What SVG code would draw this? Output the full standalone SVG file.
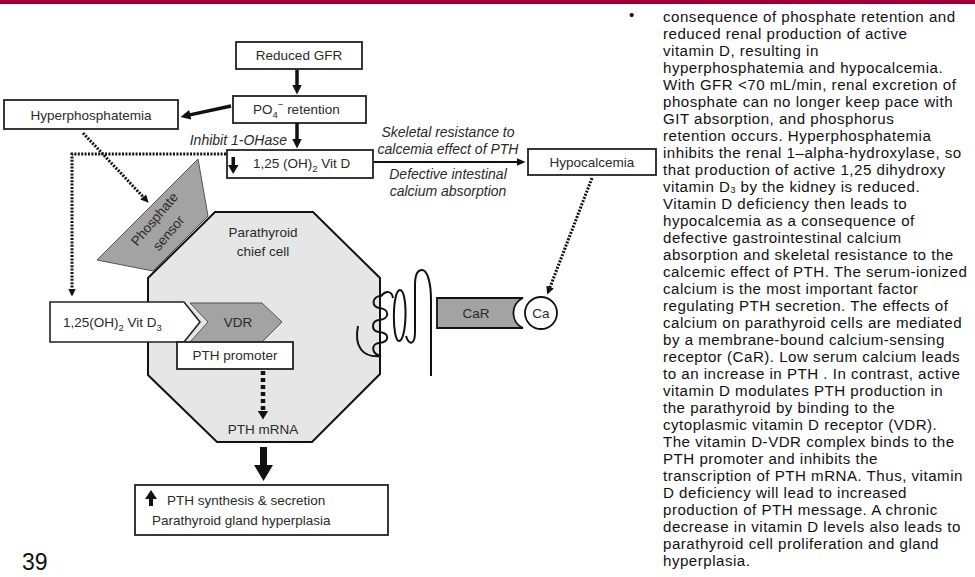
<svg xmlns="http://www.w3.org/2000/svg" width="975" height="577" viewBox="0 0 975 577">
<defs>
<style>
.box{fill:#fff;stroke:#222;stroke-width:1.8}
.lbl{font-family:"Liberation Sans",Arial,sans-serif;font-size:13.5px;fill:#2a2a2a}
.it{font-family:"Liberation Sans",Arial,sans-serif;font-size:14px;font-style:italic;fill:#2a2a2a}
.body{font-family:"Liberation Sans",Arial,sans-serif;font-size:15.1px;letter-spacing:0.5px;fill:#111}
.thick{stroke:#111;stroke-width:3.5;fill:none}
.thin{stroke:#111;stroke-width:2;fill:none}
.dot{stroke:#111;stroke-width:3;stroke-dasharray:2 1.4;fill:none}
.dotB{stroke:#111;stroke-width:4.5;stroke-dasharray:4 3;fill:none}
.gray{fill:#a3a3a3;stroke:#555;stroke-width:1}
</style>
<marker id="ahM" viewBox="0 0 10 10" markerWidth="10" markerHeight="10" markerUnits="userSpaceOnUse" refX="0.5" refY="5" orient="auto"><path d="M0,0 L10,5 L0,10 z" fill="#111"/></marker>
<marker id="ahH" viewBox="0 0 9 8" markerWidth="9" markerHeight="8" markerUnits="userSpaceOnUse" refX="0.5" refY="4" orient="auto"><path d="M0,0 L9,4 L0,8 z" fill="#111"/></marker>
<marker id="ahS" viewBox="0 0 8 8" markerWidth="8" markerHeight="8" markerUnits="userSpaceOnUse" refX="0.5" refY="4" orient="auto"><path d="M0,0 L8,4 L0,8 z" fill="#111"/></marker>
<marker id="ahB" viewBox="0 0 9 11" markerWidth="9" markerHeight="11" markerUnits="userSpaceOnUse" refX="0.5" refY="5.5" orient="auto"><path d="M0,0 L9,5.5 L0,11 z" fill="#111"/></marker>
</defs>
<rect x="0" y="0" width="975" height="577" fill="#fff"/>
<rect x="0" y="0" width="975" height="4" fill="#990033"/>

<g id="phosphate-sensor">
<polygon class="gray" points="198,159 208,216 153,271 97,260"/>
<text class="lbl" font-size="12.5" transform="translate(158,222) rotate(-50)" text-anchor="middle">Phosphate</text>
<text class="lbl" font-size="12.5" transform="translate(172,236) rotate(-50)" text-anchor="middle">sensor</text>
</g>

<g id="chief-cell">
<polygon points="215,212 313,212 380,278 380,374 312,442 217,442 148,375 148,278" fill="#e6e6e6" stroke="#111" stroke-width="2"/>
<text class="lbl" x="263" y="237" text-anchor="middle">Parathyroid</text>
<text class="lbl" x="263" y="256" text-anchor="middle">chief cell</text>
<text class="lbl" x="263" y="434" text-anchor="middle">PTH mRNA</text>
</g>

<g id="reduced-gfr">
<rect class="box" x="236" y="42" width="126" height="27"/>
<text class="lbl" x="299" y="60" text-anchor="middle">Reduced GFR</text>
</g>

<g id="po4-retention">
<rect class="box" x="233" y="96" width="133" height="27"/>
<text class="lbl" x="253" y="114">PO<tspan font-size="9.5" dy="4">4</tspan><tspan font-size="9.5" dy="-10">−</tspan><tspan dy="6"> retention</tspan></text>
</g>

<g id="hyperphosphatemia">
<rect class="box" x="4" y="100" width="174" height="29"/>
<text class="lbl" x="91" y="120" text-anchor="middle">Hyperphosphatemia</text>
</g>

<g id="vitd">
<rect class="box" x="227" y="150" width="146" height="28"/>
<rect x="231.5" y="157" width="3.5" height="9" fill="#111"/>
<polygon points="228,165 238.5,165 233.2,174" fill="#111"/>
<text class="lbl" x="253" y="168">1,25 (OH)<tspan font-size="9.5" dy="4">2</tspan><tspan dy="-4"> Vit D</tspan></text>
</g>

<g id="hypocalcemia">
<rect class="box" x="528" y="149" width="128" height="26"/>
<text class="lbl" x="592" y="167" text-anchor="middle">Hypocalcemia</text>
</g>

<g id="vitd3">
<polygon points="50,302 184,302 200,322 184,342 50,342" fill="#fff" stroke="#222" stroke-width="1.6"/>
<text class="lbl" x="63" y="327">1,25(OH)<tspan font-size="9.5" dy="4">2</tspan><tspan dy="-4"> Vit D</tspan><tspan font-size="9.5" dy="4">3</tspan></text>
</g>

<g id="vdr">
<polygon class="gray" points="190,303 262,303 282,322 262,342 190,342 208,322" stroke="#333" stroke-width="1.4"/>
<text class="lbl" x="238" y="327" text-anchor="middle">VDR</text>
</g>

<g id="pth-promoter">
<rect class="box" x="177" y="342" width="116" height="27"/>
<text class="lbl" x="235" y="360" text-anchor="middle">PTH promoter</text>
</g>

<g id="car">
<path d="M358,326 C354,346 362,358 381,356 C371,354 371,344 379,343 C390,342 390,333 379,332 C371,331 371,321 379,320 C390,319 390,309 379,308 C371,307 372,296 381,296 C386,290 392,291 393,298" fill="none" stroke="#111" stroke-width="2"/>
<path d="M400,290 C392,290 392,341 399,341 C407,341 408,290 400,290 Z" fill="none" stroke="#111" stroke-width="2"/>
<path d="M406,336 C409,346 415,345 415,332 L415,285 C415,273 418,270 422,270 C428,270 431,285 431,300 L431,376" fill="none" stroke="#111" stroke-width="2"/>
<path d="M437,298 H523 A16.5,16.5 0 0 0 523,328 H437 Z" fill="#a3a3a3" stroke="#111" stroke-width="1.8"/>
<text class="lbl" x="476" y="318" text-anchor="middle">CaR</text>
</g>

<g id="ca">
<circle cx="541" cy="313" r="16" fill="#fff" stroke="#111" stroke-width="1.8"/>
<text class="lbl" x="541" y="318" text-anchor="middle" font-size="13">Ca</text>
</g>

<g id="pth-output">
<rect class="box" x="135" y="485" width="253" height="50"/>
<rect x="149" y="498" width="4" height="8" fill="#111"/>
<polygon points="145,499 151,490 157,499" fill="#111"/>
<text class="lbl" x="167" y="505">PTH synthesis &amp; secretion</text>
<text class="lbl" x="152" y="525">Parathyroid gland hyperplasia</text>
</g>

<g id="connectors">
<line class="thick" x1="297" y1="70" x2="297" y2="85" marker-end="url(#ahM)"/>
<line class="thick" x1="297" y1="123" x2="297" y2="139" marker-end="url(#ahM)"/>
<line class="thick" x1="231" y1="106" x2="189.8" y2="114.9" marker-end="url(#ahM)"/>
<line class="thin" x1="374" y1="162" x2="517" y2="162" marker-end="url(#ahH)"/>
<path class="dot" d="M226,154 H72 V289" marker-end="url(#ahS)"/>
<line class="dot" x1="83" y1="133" x2="143.5" y2="197.2" marker-end="url(#ahS)"/>
<line class="dot" x1="592" y1="178" x2="549.9" y2="287.5" marker-end="url(#ahS)"/>
<line class="dotB" x1="263" y1="371" x2="263" y2="411" marker-end="url(#ahB)"/>
<polygon points="260,447 267,447 267,465 273,465 263.5,481 254,465 260,465" fill="#111"/>
<text class="it" x="287" y="145" text-anchor="end">Inhibit 1-OHase</text>
<text class="it" x="448" y="137" text-anchor="middle">Skeletal resistance to</text>
<text class="it" x="448" y="154" text-anchor="middle">calcemia effect of PTH</text>
<text class="it" x="448" y="179" text-anchor="middle">Defective intestinal</text>
<text class="it" x="448" y="196" text-anchor="middle">calcium absorption</text>
</g>

<g id="page-number">
<text x="22" y="570" font-family="'Liberation Sans',Arial,sans-serif" font-size="23" fill="#111">39</text>
</g>

<g id="notes">
<text class="body" x="629" y="20">•</text>
<text class="body" x="663" y="22">consequence of phosphate retention and</text>
<text class="body" x="663" y="39">reduced renal production of active</text>
<text class="body" x="663" y="56">vitamin D, resulting in</text>
<text class="body" x="663" y="73">hyperphosphatemia and hypocalcemia.</text>
<text class="body" x="663" y="90">With GFR &lt;70 mL/min, renal excretion of</text>
<text class="body" x="663" y="107">phosphate can no longer keep pace with</text>
<text class="body" x="663" y="124">GIT absorption, and phosphorus</text>
<text class="body" x="663" y="141">retention occurs. Hyperphosphatemia</text>
<text class="body" x="663" y="158">inhibits the renal 1–alpha-hydroxylase, so</text>
<text class="body" x="663" y="175">that production of active 1,25 dihydroxy</text>
<text class="body" x="663" y="192">vitamin D<tspan font-size="9" dy="1">3</tspan><tspan dy="-1"> by the kidney is reduced.</tspan></text>
<text class="body" x="663" y="209">Vitamin D deficiency then leads to</text>
<text class="body" x="663" y="226">hypocalcemia as a consequence of</text>
<text class="body" x="663" y="243">defective gastrointestinal calcium</text>
<text class="body" x="663" y="260">absorption and skeletal resistance to the</text>
<text class="body" x="663" y="277">calcemic effect of PTH. The serum-ionized</text>
<text class="body" x="663" y="294">calcium is the most important factor</text>
<text class="body" x="663" y="311">regulating PTH secretion. The effects of</text>
<text class="body" x="663" y="328">calcium on parathyroid cells are mediated</text>
<text class="body" x="663" y="345">by a membrane-bound calcium-sensing</text>
<text class="body" x="663" y="362">receptor (CaR). Low serum calcium leads</text>
<text class="body" x="663" y="379">to an increase in PTH . In contrast, active</text>
<text class="body" x="663" y="396">vitamin D modulates PTH production in</text>
<text class="body" x="663" y="413">the parathyroid by binding to the</text>
<text class="body" x="663" y="430">cytoplasmic vitamin D receptor (VDR).</text>
<text class="body" x="663" y="447">The vitamin D-VDR complex binds to the</text>
<text class="body" x="663" y="464">PTH promoter and inhibits the</text>
<text class="body" x="663" y="481">transcription of PTH mRNA. Thus, vitamin</text>
<text class="body" x="663" y="498">D deficiency will lead to increased</text>
<text class="body" x="663" y="515">production of PTH message. A chronic</text>
<text class="body" x="663" y="532">decrease in vitamin D levels also leads to</text>
<text class="body" x="663" y="549">parathyroid cell proliferation and gland</text>
<text class="body" x="663" y="566">hyperplasia.</text>
</g>
</svg>
